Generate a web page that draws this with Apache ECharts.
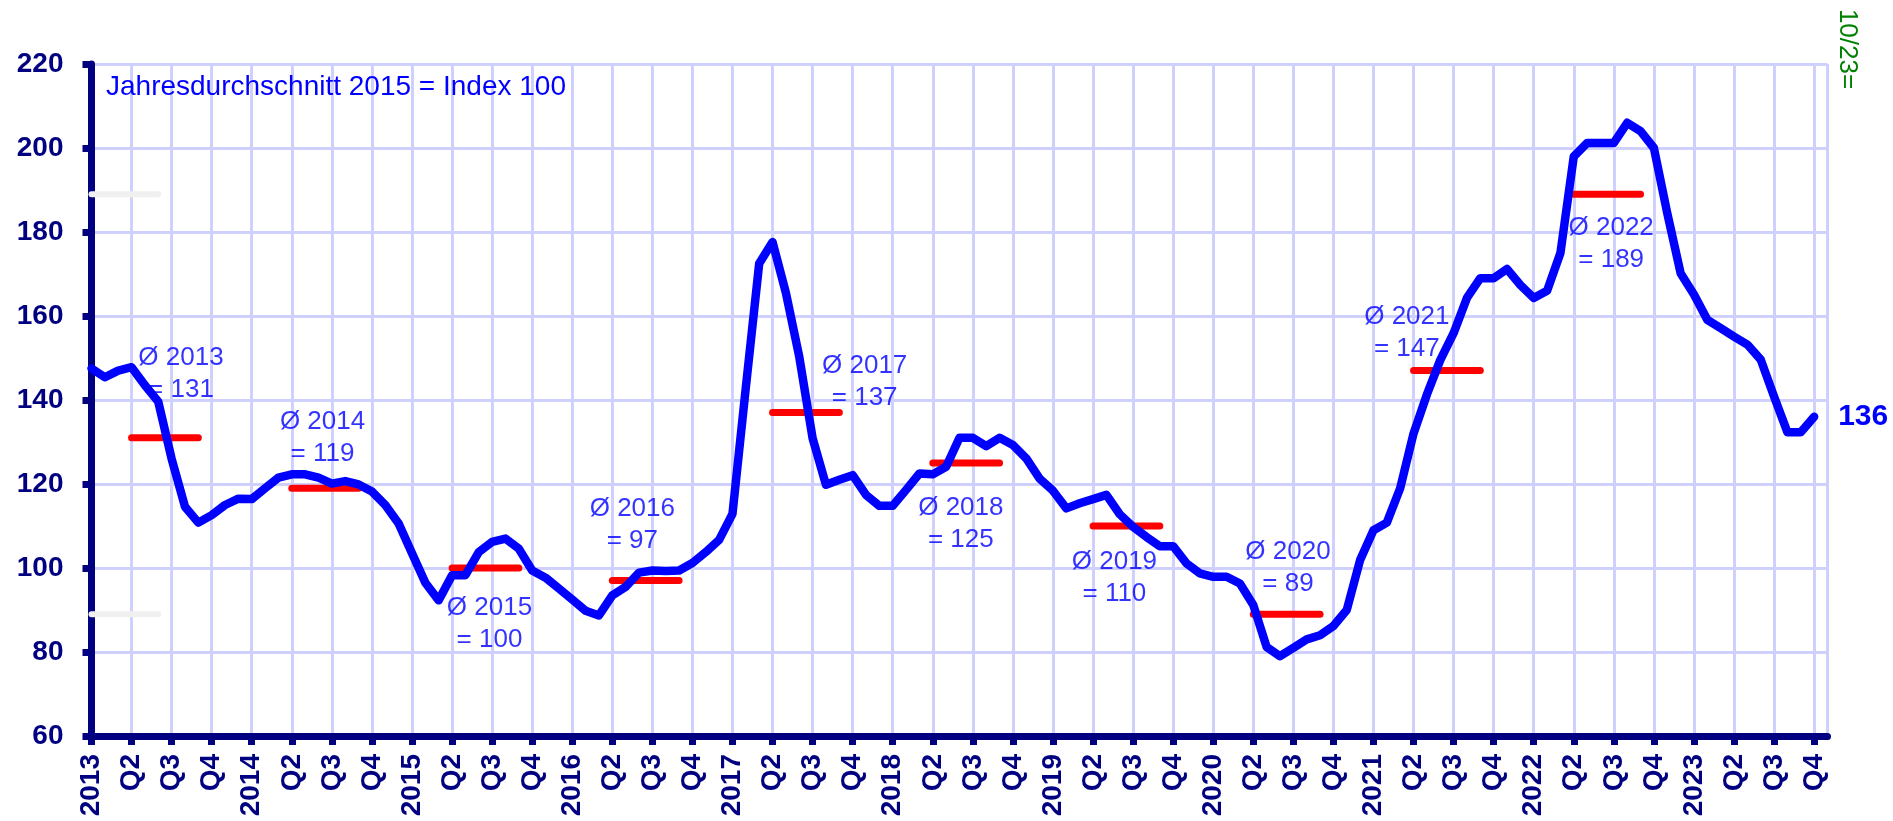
<!DOCTYPE html>
<html>
<head>
<meta charset="utf-8">
<script src="https://cdn.jsdelivr.net/npm/echarts@6/dist/echarts.min.js"></script>
<style>
html,body{margin:0;padding:0;background:#fff;}
#chart{width:1893px;height:821px;}
</style>
</head>
<body>
<div id="chart"></div>
<script>
// Monthly index values, Jan 2013 .. Oct 2023 (2015 = 100)
const startYear = 2013;
const indexValues = [
  147.5,145.4,147,147.8,143.5,139.6,126,114.6,110.8,112.6,115,116.5,      // 2013
  116.4,119,121.5,122.3,122.3,121.5,120.1,120.7,119.9,118.2,115,110.6,    // 2014
  103.5,96.5,92.3,98.3,98.3,103.8,106.2,107,104.6,99.4,97.7,95.1,         // 2015
  92.5,89.8,88.7,93.5,95.5,98.9,99.4,99.3,99.4,101.2,103.8,106.7,         // 2016
  112.9,143,172.5,177.6,165.5,150.3,130.9,119.8,121,122.1,117.4,114.8,    // 2017
  114.8,118.6,122.5,122.3,124.1,131,131,129,131,129.3,126.1,121.3,        // 2018
  118.4,114.2,115.4,116.4,117.4,112.8,109.8,107.4,105.2,105.2,101.1,98.7, // 2019
  97.9,97.9,96.3,91.2,81.2,79,81,83,84,86.2,90,101.9,                     // 2020
  109,110.8,119,132,141.3,149.5,155.9,164.3,169,169,171.2,167.4,          // 2021
  164.3,166,175,198,201.2,201.2,201.2,206,204,200,184.5,170.2,            // 2022
  165.1,159.1,157.1,155.1,153.2,149.6,140.8,132.3,132.3,136               // 2023
];
// Annual averages
const avgYears  = [2013,2014,2015,2016,2017,2018,2019,2020,2021,2022];
const avgValues = [131,119,100,97,137,125,110,89,147,189];
// Light grey short marks at the left edge
const ghostLevels = [189, 89];
// Tick labels (every quarter)
const xTickLabels = [
  '2013','Q2','Q3','Q4','2014','Q2','Q3','Q4','2015','Q2','Q3','Q4',
  '2016','Q2','Q3','Q4','2017','Q2','Q3','Q4','2018','Q2','Q3','Q4',
  '2019','Q2','Q3','Q4','2020','Q2','Q3','Q4','2021','Q2','Q3','Q4',
  '2022','Q2','Q3','Q4','2023','Q2','Q3','Q4'
];
const titleText = 'Jahresdurchschnitt 2015 = Index 100';
const dateNote = '10/23=';

// Annotation anchor (month index, value) for the average labels
const avgLabelAnchor = [
  [6.7,146.2],[17.3,131.1],[29.8,86.8],[40.5,110.3],[57.9,144.3],
  [65.1,110.4],[76.6,97.7],[89.6,100.0],[98.5,156.1],[113.8,177.1]
];

const FONT = '"Liberation Sans", Arial, sans-serif';
const NAVY = '#000080';
const GRIDC = '#d0d0ff';

// one category per month slot; one extra slot closes the frame on the right
const monthSlots = [];
for (let i = 0; i <= indexValues.length; i++) monthSlots.push(i);
const lineData = indexValues.map((v, i) => [i, v]);

const series = [];
ghostLevels.forEach(lv => {
  series.push({
    type: 'line', silent: true, symbol: 'none', z: 1, xAxisIndex: 1,
    data: [[0, lv], [5, lv]],
    lineStyle: { color: '#f0f0f0', width: 6, cap: 'round' }
  });
});
avgYears.forEach((yr, k) => {
  const m0 = (yr - startYear) * 12 + 3;
  series.push({
    type: 'line', silent: true, symbol: 'none', z: 2, xAxisIndex: 1,
    data: [[m0, avgValues[k]], [m0 + 5, avgValues[k]]],
    lineStyle: { color: '#ff0000', width: 7, cap: 'round' }
  });
});
series.push({
  type: 'line', symbol: 'none', z: 3, xAxisIndex: 1,
  data: lineData,
  lineStyle: { color: '#0000ff', width: 8.5, join: 'round', cap: 'round' },
  endLabel: {
    show: true, distance: 24,
    formatter: p => String(Math.round(p.value[1])),
    color: '#0000ff', fontFamily: FONT, fontWeight: 'bold', fontSize: 30
  }
});
series.push({
  type: 'scatter', symbolSize: 1, z: 4, silent: true, xAxisIndex: 1,
  itemStyle: { color: 'transparent' },
  data: avgLabelAnchor.map(a => [a[0], a[1]]),
  label: {
    show: true, position: 'inside',
    formatter: p => 'Ø ' + avgYears[p.dataIndex] + '\n= ' + avgValues[p.dataIndex],
    color: '#0000ff', fontFamily: FONT, fontSize: 26, lineHeight: 32,
    align: 'center', verticalAlign: 'middle'
  }
});

const chart = echarts.init(document.getElementById('chart'), null, { renderer: 'canvas' });
chart.setOption({
  animation: false,
  backgroundColor: '#ffffff',
  grid: { left: 91.5, right: 65.5, top: 64, bottom: 85, containLabel: false, outerBoundsMode: 'none' },
  xAxis: [{
    type: 'category', data: monthSlots, boundaryGap: false,
    axisLine: { show: true, lineStyle: { color: NAVY, width: 7 } },
    axisTick: { show: true, length: 9, interval: i => i % 3 === 0 && i < indexValues.length, lineStyle: { color: NAVY, width: 7 } },
    axisLabel: {
      show: true, rotate: 90, margin: 18,
      interval: i => i % 3 === 0 && i < indexValues.length,
      formatter: (v, i) => xTickLabels[i / 3] || '',
      color: NAVY, fontFamily: FONT, fontWeight: 'bold', fontSize: 28
    },
    splitLine: { show: true, interval: i => i % 3 === 0 || i === indexValues.length, lineStyle: { color: GRIDC, width: 3 } }
  }, {
    type: 'value', min: 0, max: indexValues.length, show: false,
    splitLine: { show: false }
  }],
  yAxis: {
    type: 'value', min: 60, max: 220, interval: 20,
    axisLine: { show: true, lineStyle: { color: NAVY, width: 7 } },
    axisTick: { show: true, length: 9, lineStyle: { color: NAVY, width: 7 } },
    axisLabel: { margin: 28, color: NAVY, fontFamily: FONT, fontWeight: 'bold', fontSize: 28 },
    splitLine: { show: true, lineStyle: { color: GRIDC, width: 3 } }
  },
  graphic: [
    { type: 'text', x: 106, y: 87, z: 10,
      style: { text: titleText, fill: '#0000ff', font: '28px ' + FONT, verticalAlign: 'middle', align: 'left' } },
    { type: 'text', x: 1847, y: 49, rotation: -Math.PI / 2, z: 10,
      style: { text: dateNote, fill: '#008000', font: '26px ' + FONT, verticalAlign: 'middle', align: 'center' } }
  ],
  series: series
});
</script>
</body>
</html>
